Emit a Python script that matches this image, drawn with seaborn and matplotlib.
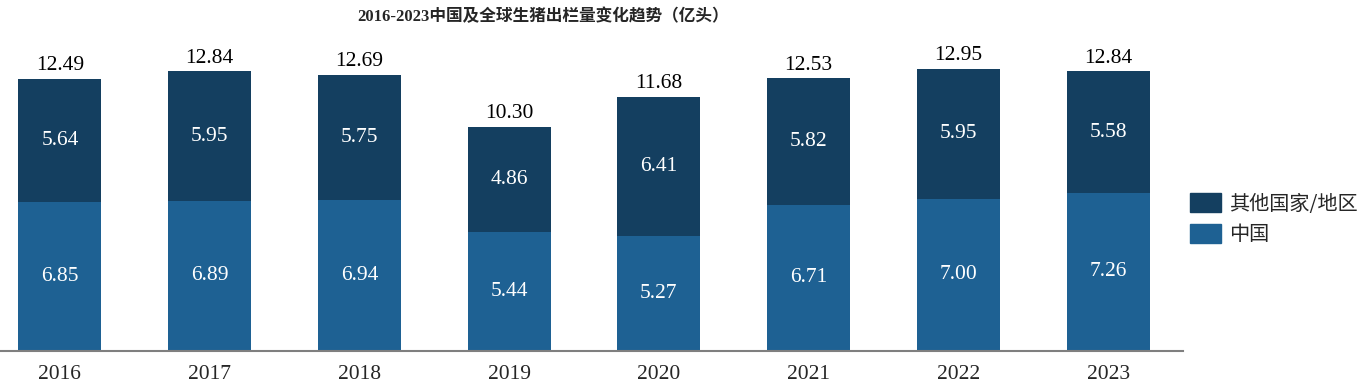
import matplotlib
matplotlib.use('Agg')
from matplotlib.patches import Patch
import matplotlib.pyplot as plt
import numpy as np
import pandas as pd
import seaborn as sns

# data (亿头)
years = ['2016', '2017', '2018', '2019', '2020', '2021', '2022', '2023']
china = [6.85, 6.89, 6.94, 5.44, 5.27, 6.71, 7.00, 7.26]
other = [5.64, 5.95, 5.75, 4.86, 6.41, 5.82, 5.95, 5.58]
totals = [12.49, 12.84, 12.69, 10.30, 11.68, 12.53, 12.95, 12.84]

dark = '#143F60'
light = '#1E6193'

sns.set_style('white')
plt.rcParams['font.family'] = ['Liberation Serif', 'Noto Sans CJK SC', 'DejaVu Sans']

df = pd.DataFrame({'year': years, 'china': china, 'other': other})

fig = plt.figure(figsize=(13.68, 3.85), dpi=100)
ax = fig.add_axes([0, 34 / 385, 1183 / 1368, 305 / 385])

sns.barplot(data=df, x='year', y='china', color=light, saturation=1,
            width=0.555, ax=ax, edgecolor='none')
sns.barplot(data=df, x='year', y='other', bottom=df['china'], color=dark,
            saturation=1, width=0.555, ax=ax, edgecolor='none')

ax.bar_label(ax.containers[0], labels=['%.2f' % v for v in china],
             label_type='center', color='white', fontsize=15.5)
ax.bar_label(ax.containers[1], labels=['%.2f' % v for v in other],
             label_type='center', color='white', fontsize=15.5)
ax.bar_label(ax.containers[1], labels=['%.2f' % v for v in totals],
             padding=2.5, color='black', fontsize=15.5)

ax.set_xlim(-0.4, 7.5)
ax.set_ylim(0, 14)
ax.set_xlabel('')
ax.set_ylabel('')
ax.set_yticks([])
sns.despine(ax=ax, left=True)
ax.spines['bottom'].set_color('#7f7f7f')
ax.spines['bottom'].set_linewidth(1.5)
ax.tick_params(axis='x', length=0, pad=10, labelsize=15.5)

fig.text(543 / 1368, 1 - 17 / 385, '2016-2023中国及全球生猪出栏量变化趋势（亿头）',
         ha='center', va='center', fontsize=12, fontweight='bold')

handles = [Patch(color=dark, label='其他国家/地区'), Patch(color=light, label='中国')]
fig.legend(handles=handles, loc='upper left', bbox_to_anchor=(1190 / 1368, 1 - 193 / 385),
           frameon=False, handlelength=1.55, handleheight=1.1,
           handletextpad=0.4, labelspacing=0.45, borderpad=0, borderaxespad=0,
           prop={'family': ['Noto Sans CJK SC'], 'size': 14.5})

fig.savefig('out.png', dpi=100)
plt.close()
